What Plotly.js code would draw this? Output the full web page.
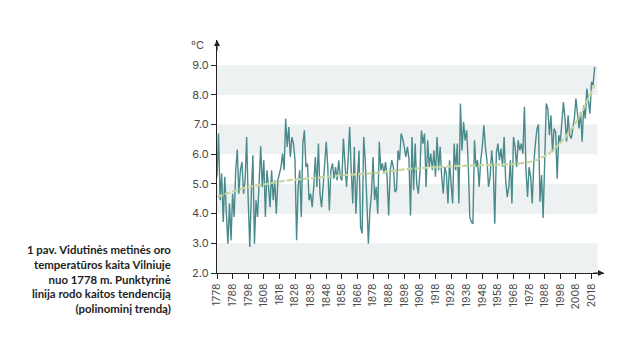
<!DOCTYPE html>
<html><head><meta charset="utf-8">
<script src="https://cdn.plot.ly/plotly-3.0.1.min.js"></script>
<style>html,body{margin:0;padding:0;background:#fff}</style>
</head><body><div id="chart" style="width:642px;height:347px"></div>
<script>
// Annual mean air temperature in Vilnius, 1778–2020 (°C)
const startYear = 1778;
const temps = [
  5.24,6.70,4.45,5.35,3.72,5.24,4.00,2.99,4.34,3.10, // 1778-1787
  4.67,3.89,5.46,6.16,4.67,5.46,5.74,4.67,5.12,6.58, // 1788-1797
  4.45,2.88,4.67,5.97,2.99,4.45,3.89,4.90,6.27,4.90, // 1798-1807
  5.80,3.89,5.46,4.90,4.22,5.46,4.45,5.12,4.00,5.12, // 1808-1817
  5.35,5.57,6.02,5.46,7.20,6.25,6.92,5.91,6.58,6.36, // 1818-1827
  5.80,3.10,4.90,5.46,3.89,6.36,6.81,5.57,5.69,4.45, // 1828-1837
  4.67,4.22,4.90,5.91,4.90,6.36,4.67,4.22,4.90,5.57, // 1838-1847
  6.42,5.57,4.11,5.46,5.69,5.18,5.57,5.12,5.80,5.24, // 1848-1857
  5.12,6.53,5.60,4.90,5.80,6.92,5.50,4.34,6.25,4.00, // 1858-1867
  5.20,6.13,3.55,3.33,6.58,5.80,4.45,2.99,4.11,4.67, // 1868-1877
  5.91,4.45,4.90,4.00,6.42,5.46,5.69,5.35,5.74,5.24, // 1878-1887
  3.94,5.46,5.80,5.57,4.73,4.79,6.13,5.80,6.70,6.53, // 1888-1897
  6.25,5.91,6.25,5.85,3.94,6.58,4.79,6.36,5.00,4.67, // 1898-1907
  5.35,6.80,6.36,6.70,4.90,6.47,5.57,6.02,5.46,6.13, // 1908-1917
  5.24,6.58,5.46,6.25,5.24,4.67,5.57,5.35,4.34,5.80, // 1918-1927
  5.01,4.34,6.36,5.46,6.36,4.34,7.71,6.13,7.09,6.47, // 1928-1937
  6.81,5.69,3.89,3.72,3.66,6.47,5.57,5.80,4.90,5.80, // 1938-1947
  6.25,6.98,6.25,5.80,4.90,5.24,6.13,5.57,3.66,6.02, // 1948-1957
  6.36,5.80,6.19,5.57,6.58,5.12,4.56,4.90,5.80,4.34, // 1958-1967
  6.58,6.25,5.57,6.47,6.13,6.36,6.02,7.60,5.46,4.56, // 1968-1977
  5.57,5.24,4.34,5.69,6.33,6.85,7.00,4.40,5.30,3.85, // 1978-1987
  5.74,7.71,7.54,6.64,7.31,6.08,6.87,6.75,5.18,6.64, // 1988-1997
  6.42,7.09,7.76,7.20,6.42,7.31,6.64,6.53,6.87,7.20, // 1998-2007
  7.88,7.43,6.87,7.43,6.42,7.65,7.20,8.21,7.76,7.37, // 2008-2017
  8.44,8.33,8.94                                     // 2018-2020
];
const years = temps.map((_, i) => startYear + i);

// Polynomial trend line at these years
const trendYears  = [1778, 1790, 1800, 1810, 1820, 1840, 1860, 1880, 1900, 1920, 1940, 1960, 1970, 1980, 1990, 2000, 2010, 2020];
const trendValues = [4.56, 4.78, 4.92, 5.00, 5.10, 5.20, 5.30, 5.37, 5.50, 5.57, 5.62, 5.65, 5.68, 5.76, 6.00, 6.50, 7.25, 8.33];

const xTickYears  = [1778,1788,1798,1808,1818,1828,1838,1848,1858,1868,1878,1888,1898,1908,1918,1928,1938,1948,1958,1968,1978,1988,1998,2008,2018];
const xTickLabels = ["1778","1788","1798","1808","1818","1828","1838","1848","1858","1868","1878","1888","1898","1908","1918","1928","1938","1948","1958","1968","1978","1988","1998","2008","2018"];
const yTickValues = [2, 3, 4, 5, 6, 7, 8, 9];
const yTickLabels = ["2.0","3.0","4.0","5.0","6.0","7.0","8.0","9.0"];
const bandRanges  = [[2, 3], [4, 5], [6, 7], [8, 9]];
const unitLabel = "°C";
const captionLines = [
  "1 pav. Vidutinės metinės oro",
  "temperatūros kaita Vilniuje",
  "nuo 1778 m. Punktyrinė",
  "linija rodo kaitos tendenciją",
  "(polinominį trendą)"
];

const tickFont = {family: "Inter, 'DejaVu Sans', sans-serif", size: 10.5, color: "#4a4a4a"};

const shapes = bandRanges.map(([y0, y1]) => ({
  type: "rect", layer: "below", xref: "x", yref: "y",
  x0: 1778, x1: 2021.8, y0: y0, y1: y1,
  fillcolor: "#eef1f1", line: {width: 0}
}));

const data = [
  {x: years, y: temps, type: "scatter", mode: "lines",
   line: {color: "#4a8a8b", width: 1.4}, hoverinfo: "skip"},
  {x: trendYears, y: trendValues, type: "scatter", mode: "lines",
   line: {color: "#c9d6a0", width: 2.2, dash: "6px,2px", shape: "spline", smoothing: 0.8}, hoverinfo: "skip"}
];

const layout = {
  width: 642, height: 347,
  margin: {l: 217, r: 38, t: 40, b: 74, pad: 0},
  paper_bgcolor: "#ffffff", plot_bgcolor: "#ffffff",
  showlegend: false,
  xaxis: {
    range: [1778, 2026], tickmode: "array", tickvals: xTickYears, ticktext: xTickLabels,
    tickangle: -90, ticks: "outside", ticklen: 5, tickwidth: 1, tickcolor: "#222",
    showline: true, linecolor: "#222", linewidth: 1.2, showgrid: false, zeroline: false,
    tickfont: tickFont, fixedrange: true
  },
  yaxis: {
    range: [2, 9.85], tickmode: "array", tickvals: yTickValues, ticktext: yTickLabels,
    ticks: "outside", ticklen: 5, tickwidth: 1, tickcolor: "#222",
    showline: true, linecolor: "#222", linewidth: 1.2, showgrid: false, zeroline: false,
    tickfont: {family: tickFont.family, size: 11, color: "#4a4a4a"}, fixedrange: true
  },
  shapes: shapes,
  annotations: [
    {xref: "paper", yref: "paper", x: 0, y: 1, ax: 0, ay: 12,
     showarrow: true, arrowhead: 2, arrowsize: 1, arrowwidth: 1.2, arrowcolor: "#222", text: ""},
    {xref: "paper", yref: "paper", x: 1, y: 0, ax: -12, ay: 0,
     showarrow: true, arrowhead: 2, arrowsize: 1, arrowwidth: 1.2, arrowcolor: "#222", text: ""},
    {xref: "paper", yref: "paper", x: -0.028, y: 0.979, xanchor: "right", yanchor: "middle",
     showarrow: false, text: unitLabel, font: {family: tickFont.family, size: 11, color: "#4a4a4a"}},
    {xref: "paper", yref: "paper", x: -0.114, y: -0.026, xanchor: "right", yanchor: "middle",
     align: "right", showarrow: false,
     text: captionLines.map(s => "<b>" + s + "</b>").join("<br>"),
     font: {family: "Lato, Inter, sans-serif", size: 11.4, color: "#1e1e1e"}}
  ]
};

Plotly.newPlot("chart", data, layout, {displayModeBar: false, staticPlot: true});
</script>
</body></html>
